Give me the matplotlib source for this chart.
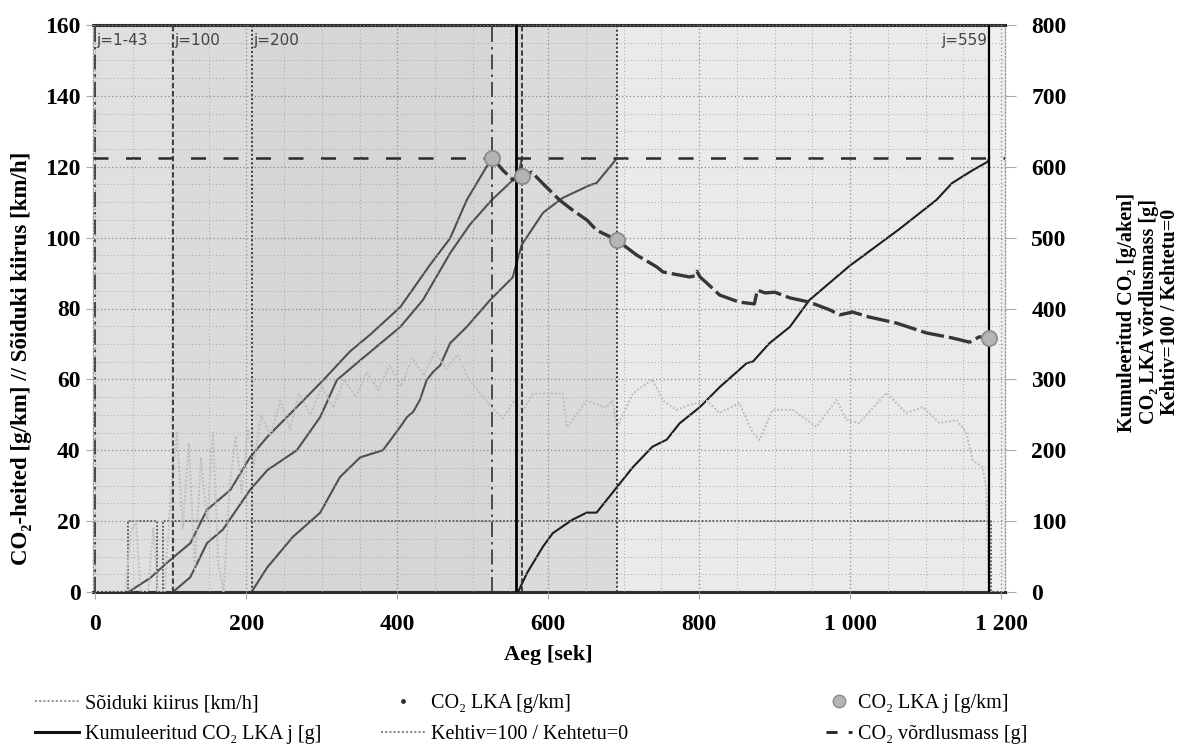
import matplotlib
matplotlib.use("Agg")
import matplotlib.pyplot as plt
from matplotlib.lines import Line2D
from matplotlib.ticker import MultipleLocator, FixedLocator

plt.rcParams['font.family'] = ['Liberation Serif', 'DejaVu Serif']

# ---------------- data ----------------
# vehicle speed [km/h] (time s, value)
speed = [(0, 0), (40, 0), (47, 17), (54, 20), (60, 0), (70, 0), (77, 18), (83, 0), (92, 0),
         (100, 28), (108, 45), (116, 18), (124, 42), (132, 6), (140, 38), (148, 20), (156, 45),
         (163, 8), (170, 0), (178, 30), (186, 44), (194, 28), (202, 46), (210, 36), (220, 50),
         (232, 44), (245, 54), (258, 46), (270, 56), (285, 50), (300, 58), (315, 52), (330, 60),
         (345, 55), (360, 62), (375, 57), (390, 64), (405, 58), (420, 66), (435, 61), (450, 68),
         (465, 63), (480, 67), (495, 60), (510, 56), (525, 52), (540, 49), (555, 54), (566, 51),
         (580, 56), (606, 56), (619, 56), (625, 46.5), (651, 54), (677, 52), (685, 54),
         (691, 46.5), (712, 56), (738, 60), (752, 54), (770, 51.4), (787, 52.8), (810, 54),
         (827, 50.5), (853, 53.3), (871, 44.9), (880, 42.9), (897, 51.4), (924, 51.4),
         (955, 46.6), (982, 54.2), (995, 48.5), (1012, 47.7), (1048, 56.2), (1074, 50.5),
         (1096, 52.2), (1118, 47.7), (1141, 48.5), (1154, 44.9), (1162, 37.2), (1175, 35.3),
         (1180, 29.6), (1184, 0), (1205, 0)]

# cumulative CO2 mass of windows [g] (time s, value)
cum_j1 = [(44, 0), (73, 20), (99, 45), (126, 69), (148, 116), (179, 144), (205, 190), (228, 219),
          (267, 261), (302, 299), (337, 339), (364, 363), (404, 402), (443, 461), (470, 499),
          (492, 553), (525, 612)]
cum_j100 = [(103, 0), (126, 21), (148, 69), (169, 88), (205, 144), (228, 172), (267, 200),
            (298, 247), (320, 299), (351, 327), (404, 374), (434, 412), (470, 478), (496, 518),
            (525, 553), (553, 581), (562, 596), (565, 612)]
cum_j200 = [(207, 0), (228, 35), (262, 78), (298, 112), (324, 162), (351, 190), (381, 200),
            (404, 233), (413, 247), (421, 254), (430, 271), (439, 299), (447, 310), (457, 320),
            (470, 351), (492, 374), (523, 412), (553, 444), (558, 464), (565, 490), (593, 535),
            (619, 556), (655, 574), (664, 577), (691, 612)]
cum_j559 = [(557, 0), (560, 0), (572, 27), (593, 64), (606, 83), (632, 102), (651, 112),
            (664, 112), (685, 140), (712, 176), (738, 205), (757, 215), (774, 238), (801, 261),
            (827, 289), (863, 323), (871, 325), (893, 351), (920, 374), (946, 412), (999, 460),
            (1065, 512), (1114, 553), (1135, 577), (1162, 595), (1182, 607), (1184, 612)]

# moving-window CO2 [g/km] (time s, value)
co2_lka = [(525, 122.7), (540, 119), (553, 116.3), (562, 116.8), (572, 117.7), (578, 118.5),
           (595, 114.8), (615, 110.6), (632, 107.8), (651, 105), (664, 102.1), (691, 99.3),
           (717, 95.1), (744, 91.7), (752, 90.3), (787, 88.9), (794, 89.2), (797, 90.5),
           (801, 88.9), (810, 87.2), (827, 83.8), (853, 81.8), (873, 81.3), (877, 85.2),
           (887, 84.4), (900, 84.6), (920, 83), (946, 81.8), (973, 79.6), (986, 78.2),
           (1003, 79), (1025, 77.6), (1061, 75.9), (1101, 73.1), (1135, 71.7), (1158, 70.5),
           (1171, 72), (1184, 71.7)]

# selected windows CO2 [g/km]
co2_j_t = [525, 565, 691, 1184]
co2_j_v = [122.5, 117.5, 99.3, 71.8]

# validity (steps)
kehtiv_t = [0, 44, 82, 90, 1186, 1205]
kehtiv_v = [0, 100, 0, 100, 0, 0]

ref_mass = 612

# windows: label, start, end
win_labels = ["j=1-43", "j=100", "j=200", "j=559"]
win_start = [0, 103, 207, 557]
win_end = [525, 565, 691, 1184]

x_ticks = [0, 200, 400, 600, 800, 1000, 1200]
x_ticklabels = ["0", "200", "400", "600", "800", "1 000", "1 200"]

# ---------------- figure ----------------
W, H = 1184, 752
fig = plt.figure(figsize=(W / 100, H / 100), dpi=100)
L, R, T, B = 93, 1005, 25, 592
ax = fig.add_axes([L / W, 1 - B / H, (R - L) / W, (B - T) / H])
ax2 = ax.twinx()
ax.set_zorder(2)
ax2.set_zorder(1)
ax.patch.set_visible(False)
ax2.patch.set_visible(True)
ax2.set_facecolor('#f0f0f0')

ax.set_xlim(-3, 1205)
ax.set_ylim(0, 160)
ax2.set_ylim(0, 800)

# window shading
for s, e in zip(win_start, win_end):
    ax2.axvspan(s, e, color='#a0a0a0', alpha=0.07, lw=0, zorder=0)
ax2.axvspan(win_start[0], win_end[2], color='#a0a0a0', alpha=0.13, lw=0, zorder=0)

# grid
ax.xaxis.set_major_locator(FixedLocator(x_ticks))
ax.xaxis.set_minor_locator(MultipleLocator(50))
ax.yaxis.set_major_locator(MultipleLocator(20))
ax.yaxis.set_minor_locator(MultipleLocator(5))
ax.grid(which='major', color='#8a8a8a', linestyle=(0, (1, 2)), linewidth=0.9)
ax.grid(which='minor', color='#a8a8a8', linestyle=(0, (1, 2.5)), linewidth=0.7)
ax.set_axisbelow(True)

def unzip(pairs):
    return [p[0] for p in pairs], [p[1] for p in pairs]

# speed
st, sv = unzip(speed)
ax.plot(st, sv, color='#bdbdbd', lw=1.4, linestyle=(0, (1, 1)), zorder=3)

# validity
ax2.plot(kehtiv_t, kehtiv_v, drawstyle='steps-post', color='#555555', lw=1.3,
         linestyle=(0, (1, 1)), zorder=3)

# cumulative curves
for c, col in zip([cum_j1, cum_j100, cum_j200, cum_j559], ['#505050', '#505050', '#505050', '#1e1e1e']):
    ct, cv = unzip(c)
    ax2.plot(ct, cv, color=col, lw=1.5, zorder=4)

# reference mass
ax2.axhline(ref_mass, color='#2a2a2a', lw=1.8, linestyle=(0, (6, 7)), zorder=5)

# vertical window lines
styles = [dict(color='#333333', lw=1.2, linestyle=(0, (9, 3, 1.5, 3))),
          dict(color='#333333', lw=1.3, linestyle=(0, (3, 1.5))),
          dict(color='#3a3a3a', lw=1.4, linestyle=(0, (1, 1.2))),
          dict(color='#000000', lw=2.0, linestyle='-')]
for s, e, st_ in zip(win_start, win_end, styles):
    ax.axvline(s, zorder=4, **st_)
    kw = dict(st_)
    if kw['linestyle'] == '-':
        kw['lw'] = 1.6
    ax.axvline(e, zorder=4, **kw)

# window labels
for i, (lab, s, e) in enumerate(zip(win_labels, win_start, win_end)):
    if i < 3:
        ax.text(s + 2, 155.5, lab, fontsize=11, color='#444444', ha='left', va='center',
                family=['DejaVu Sans'])
    else:
        ax.text(e - 3, 155.5, lab, fontsize=11, color='#444444', ha='right', va='center',
                family=['DejaVu Sans'])

# CO2 LKA
lt, lv = unzip(co2_lka)
ax.plot(lt, lv, color='#363636', lw=2.4, linestyle=(0, (7, 1.5)), zorder=5)
ax.plot(co2_j_t, co2_j_v, linestyle='none', marker='o', ms=11, mfc='#b4b4b4',
        mec='#8a8a8a', mew=1.2, zorder=6)

# spines
for sp in ax.spines.values():
    sp.set_visible(False)
for name in ['top', 'bottom']:
    ax2.spines[name].set_color('#2e2e2e')
    ax2.spines[name].set_linewidth(2.2)
    ax2.spines[name].set_linestyle((0, (1, 0.6)))
for name in ['left', 'right']:
    ax2.spines[name].set_color('#9a9a9a')
    ax2.spines[name].set_linewidth(1.0)
    ax2.spines[name].set_linestyle((0, (1, 1.5)))

# ticks
ax.set_xticklabels(x_ticklabels)
ax.tick_params(axis='x', which='major', length=5, width=0.8, color='#aaaaaa', pad=11, labelsize=17)
ax.tick_params(axis='y', which='major', length=5, width=0.8, color='#aaaaaa', pad=4, labelsize=17)
ax.tick_params(which='minor', length=0)
ax2.yaxis.set_major_locator(MultipleLocator(100))
ax2.tick_params(axis='y', length=8, width=0.8, color='#aaaaaa', pad=11, labelsize=17)
for lab in ax.get_xticklabels() + ax.get_yticklabels() + ax2.get_yticklabels():
    lab.set_fontweight('bold')

# axis titles
fig.text(22 / W, 1 - 358 / H, "CO₂-heited [g/km] // Sõiduki kiirus [km/h]", rotation=90,
         ha='center', va='center', fontsize=16.5, fontweight='bold')
right_lines = ["Kumuleeritud CO₂ [g/aken]", "CO₂ LKA võrdlusmass [g]", "Kehtiv=100 / Kehtetu=0"]
for xp, txt in zip([1127, 1149, 1170], right_lines):
    fig.text(xp / W, 1 - 312 / H, txt, rotation=90, ha='center', va='center',
             fontsize=14.5, fontweight='bold')
fig.text(548 / W, 1 - 655 / H, "Aeg [sek]", ha='center', va='center', fontsize=16,
         fontweight='bold')

# legends
h_speed = Line2D([], [], color='#9a9a9a', lw=1.5, linestyle=(0, (1, 1)))
h_cum = Line2D([], [], color='#111111', lw=2.2)
h_lka = Line2D([], [], color='#333333', linestyle='none', marker='.', ms=5)
h_keh = Line2D([], [], color='#8a8a8a', lw=1.5, linestyle=(0, (1, 1)))
h_lkaj = Line2D([], [], linestyle='none', marker='o', ms=9, mfc='#b4b4b4', mec='#8a8a8a')
h_ref = Line2D([], [], color='#222222', lw=2.0, linestyle=(0, (4, 4)))

leg_kw = dict(frameon=False, fontsize=14.5, borderpad=0, borderaxespad=0, labelspacing=0.55,
              handletextpad=0.3)
lg1 = fig.legend([h_speed, h_cum], ["Sõiduki kiirus [km/h]", "Kumuleeritud CO₂ LKA j [g]"],
                 loc='center left', bbox_to_anchor=(35 / W, 1 - 719 / H), handlelength=2.2, **leg_kw)
lg2 = fig.legend([h_lka, h_keh], ["CO₂ LKA [g/km]", "Kehtiv=100 / Kehtetu=0"],
                 loc='center left', bbox_to_anchor=(381 / W, 1 - 719 / H), handlelength=2.2, **leg_kw)
lg3 = fig.legend([h_lkaj, h_ref], ["CO₂ LKA j [g/km]", "CO₂ võrdlusmass [g]"],
                 loc='center left', bbox_to_anchor=(826 / W, 1 - 719 / H), handlelength=1.3, **leg_kw)

fig.savefig("out.png", dpi=100, facecolor='white')
